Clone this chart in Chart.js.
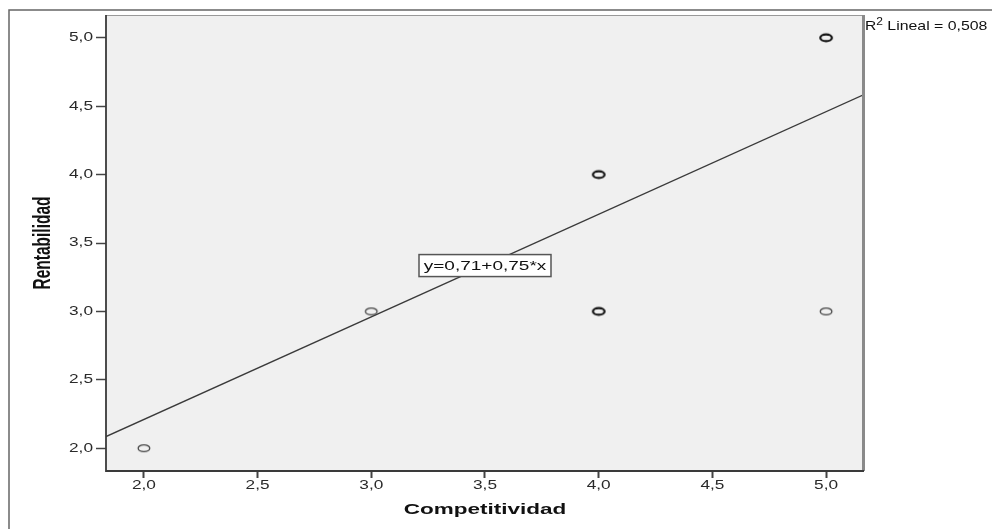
<!DOCTYPE html>
<html>
<head>
<meta charset="utf-8">
<script src="https://cdn.jsdelivr.net/npm/chart.js@4/dist/chart.umd.min.js"></script>
<style>
  html, body { margin: 0; padding: 0; background: #fff; overflow: hidden; }
  canvas { display: block; }
</style>
</head>
<body>
<canvas id="grafico" width="992" height="529"></canvas>
<script>
// Observaciones: Competitividad (x) frente a Rentabilidad (y)
const competitividad = [2, 3, 4, 4, 5, 5];
const rentabilidad   = [2, 3, 4, 3, 5, 3];
const casos          = [1, 1, 2, 2, 2, 1];   // casos repetidos en el mismo punto

// Marcas de los ejes
const ticksX = [2.0, 2.5, 3.0, 3.5, 4.0, 4.5, 5.0];
const ticksY = [2.0, 2.5, 3.0, 3.5, 4.0, 4.5, 5.0];

// Recta de regresión lineal y ajuste
const intercepto = 0.71;
const pendiente  = 0.75;
const r2Lineal   = 0.508;

// Rango de los ejes (margen de 1/6 alrededor de los datos)
const X_MIN = 2 - 1 / 6, X_MAX = 5 + 1 / 6;
const Y_MIN = 2 - 1 / 6, Y_MAX = 5 + 1 / 6;

const fmt = v => v.toFixed(1).replace('.', ',');
const fmt2 = v => v.toFixed(2).replace('.', ',');
const FONT = 'Arial, "Liberation Sans", sans-serif';

// Marcador elíptico hueco al estilo SPSS
function marcador(grosor) {
  const c = document.createElement('canvas');
  c.width = 18; c.height = 12;
  const g = c.getContext('2d');
  g.strokeStyle = grosor > 1.5 ? '#111' : '#444';
  g.lineWidth = grosor;
  g.beginPath();
  g.ellipse(9, 6, 5.8, 3.4, 0, 0, Math.PI * 2);
  g.stroke();
  return c;
}
const marcaSimple = marcador(1.3);
const marcaDoble = marcador(2.2);

function textoEstirado(ctx, texto, x, y, sx) {
  ctx.save();
  ctx.translate(x, y);
  ctx.scale(sx, 1);
  ctx.fillText(texto, 0, 0);
  ctx.restore();
}

const decoracion = {
  id: 'decoracion',
  beforeDraw(chart) {
    const { ctx, chartArea: a } = chart;
    ctx.save();
    ctx.fillStyle = '#fff';
    ctx.fillRect(0, 0, chart.width, chart.height);
    // marco exterior
    ctx.strokeStyle = '#666';
    ctx.lineWidth = 1.5;
    ctx.beginPath();
    ctx.moveTo(9, chart.height);
    ctx.lineTo(9, 10);
    ctx.lineTo(chart.width, 10);
    ctx.stroke();
    // fondo del área de trazado
    ctx.fillStyle = '#f0f0f0';
    ctx.fillRect(a.left, a.top, a.right - a.left, a.bottom - a.top);
    ctx.restore();
  },
  afterDatasetsDraw(chart) {
    const { ctx, chartArea: a, scales: { x, y } } = chart;
    ctx.save();
    // bordes del área de trazado
    ctx.strokeStyle = '#999';
    ctx.lineWidth = 1;
    ctx.beginPath();
    ctx.moveTo(a.left, a.top + 0.5);
    ctx.lineTo(a.right, a.top + 0.5);
    ctx.stroke();
    ctx.strokeStyle = '#8a8a8a';
    ctx.lineWidth = 3;
    ctx.beginPath();
    ctx.moveTo(a.right - 0.5, a.top);
    ctx.lineTo(a.right - 0.5, a.bottom);
    ctx.stroke();
    ctx.strokeStyle = '#3a3a3a';
    ctx.lineWidth = 1.8;
    ctx.beginPath();
    ctx.moveTo(a.left, a.top);
    ctx.lineTo(a.left, a.bottom);
    ctx.lineTo(a.right, a.bottom);
    ctx.stroke();

    // etiquetas de las marcas
    ctx.fillStyle = '#2a2a2a';
    ctx.font = '12.5px ' + FONT;
    ctx.textBaseline = 'middle';
    ctx.textAlign = 'right';
    y.ticks.forEach(t => textoEstirado(ctx, fmt(t.value), 93, y.getPixelForValue(t.value), 1.38));
    ctx.textAlign = 'center';
    x.ticks.forEach(t => textoEstirado(ctx, fmt(t.value), x.getPixelForValue(t.value), 486, 1.38));

    // títulos de los ejes
    ctx.fillStyle = '#111';
    ctx.font = 'bold 15px ' + FONT;
    ctx.textAlign = 'center';
    ctx.textBaseline = 'middle';
    textoEstirado(ctx, 'Competitividad', (a.left + a.right) / 2, 510, 1.5);
    ctx.save();
    ctx.font = 'bold 15.5px ' + FONT;
    ctx.translate(44, (a.top + a.bottom) / 2);
    ctx.rotate(-Math.PI / 2);
    ctx.scale(1, 1.5);
    ctx.fillText('Rentabilidad', 0, 0);
    ctx.restore();

    // ecuación de la recta
    const xe = 3.5;
    const cx = x.getPixelForValue(xe);
    const cy = y.getPixelForValue(intercepto + pendiente * xe);
    const w = 132, h = 22;
    ctx.fillStyle = '#fff';
    ctx.fillRect(cx - w / 2, cy - h / 2, w, h);
    ctx.strokeStyle = '#555';
    ctx.lineWidth = 1.5;
    ctx.strokeRect(cx - w / 2, cy - h / 2, w, h);
    ctx.fillStyle = '#111';
    ctx.font = '12.5px ' + FONT;
    ctx.textAlign = 'center';
    textoEstirado(ctx, 'y=' + fmt2(intercepto) + '+' + fmt2(pendiente) + '*x', cx, cy + 0.5, 1.52);

    // R² lineal
    ctx.fillStyle = '#111';
    ctx.textAlign = 'left';
    ctx.textBaseline = 'alphabetic';
    ctx.font = '13px ' + FONT;
    let px = a.right + 1;
    textoEstirado(ctx, 'R', px, 30, 1.2);
    px += ctx.measureText('R').width * 1.2;
    ctx.font = '10px ' + FONT;
    textoEstirado(ctx, '2', px, 25, 1.2);
    px += ctx.measureText('2').width * 1.2;
    ctx.font = '13px ' + FONT;
    textoEstirado(ctx, ' Lineal = ' + r2Lineal.toFixed(3).replace('.', ','), px, 30, 1.22);
    ctx.restore();
  }
};

new Chart(document.getElementById('grafico'), {
  type: 'scatter',
  data: {
    datasets: [
      {
        label: 'Rentabilidad',
        data: competitividad.map((v, i) => ({ x: v, y: rentabilidad[i] })),
        pointStyle: casos.map(n => (n > 1 ? marcaDoble : marcaSimple)),
        pointRadius: 6,
        pointHoverRadius: 6,
        showLine: false
      },
      {
        label: 'Lineal',
        type: 'line',
        data: [
          { x: X_MIN, y: intercepto + pendiente * X_MIN },
          { x: X_MAX, y: intercepto + pendiente * X_MAX }
        ],
        borderColor: '#3a3a3a',
        borderWidth: 1.3,
        pointRadius: 0,
        fill: false
      }
    ]
  },
  options: {
    responsive: false,
    devicePixelRatio: 1,
    animation: false,
    events: [],
    layout: { padding: { left: 0, top: 15, right: 128, bottom: 0 } },
    plugins: { legend: { display: false }, tooltip: { enabled: false } },
    scales: {
      x: {
        type: 'linear',
        min: X_MIN,
        max: X_MAX,
        afterBuildTicks: s => { s.ticks = ticksX.map(v => ({ value: v })); },
        afterFit: s => { s.height = 58; },
        ticks: { display: false },
        border: { display: false },
        grid: { drawOnChartArea: false, drawTicks: true, tickLength: 7, tickColor: '#444', tickWidth: 2 }
      },
      y: {
        type: 'linear',
        min: Y_MIN,
        max: Y_MAX,
        afterBuildTicks: s => { s.ticks = ticksY.map(v => ({ value: v })); },
        afterFit: s => { s.width = 106; },
        ticks: { display: false },
        border: { display: false },
        grid: { drawOnChartArea: false, drawTicks: true, tickLength: 10, tickColor: '#444', tickWidth: 1.5 }
      }
    }
  },
  plugins: [decoracion]
});
</script>
</body>
</html>
